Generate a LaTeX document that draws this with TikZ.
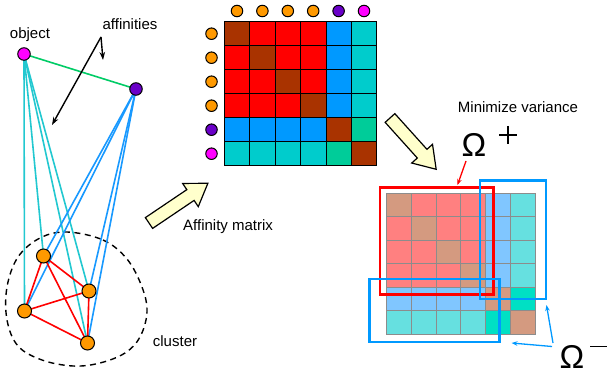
\documentclass[tikz,border=0pt]{standalone}
\usepackage{fontspec}
\setmainfont{Liberation Sans}
\usetikzlibrary{arrows.meta}
\definecolor{mB}{HTML}{A93300}
\definecolor{mR}{HTML}{FF0000}
\definecolor{mU}{HTML}{0099FF}
\definecolor{mC}{HTML}{00CCCC}
\definecolor{mG}{HTML}{00CC99}
\definecolor{fB}{HTML}{D49A80}
\definecolor{fR}{HTML}{FF8080}
\definecolor{fU}{HTML}{80C6FF}
\definecolor{fC}{HTML}{66E0E0}
\definecolor{fG}{HTML}{00E0C4}
\definecolor{dotorange}{HTML}{FF9900}
\definecolor{dotpurple}{HTML}{6A00C8}
\definecolor{dotmagenta}{HTML}{FF00FF}
\definecolor{edgecyan}{HTML}{22C8D0}
\definecolor{edgeblue}{HTML}{1899FF}
\definecolor{edgegreen}{HTML}{00CC66}
\definecolor{arrowfill}{HTML}{FFFFCC}
\definecolor{boxblue}{HTML}{0099FF}
\tikzset{
  dot/.style={circle, draw=black, line width=1pt, minimum size=12.5pt, inner sep=0pt},
  gdot/.style={dot, minimum size=14pt},
  lbl/.style={font=\fontsize{15}{17}\selectfont, inner sep=0pt},
  omg/.style={font=\fontsize{33}{35}\selectfont, inner sep=0pt},
  edge/.style={line width=1.6pt},
  bigarrow/.style={fill=arrowfill, draw=black, line width=1.2pt, line join=miter},
  blk/.style={line width=1.4pt, -{Stealth[length=8pt,width=5.5pt]}},
  selbox/.style={line width=2.4pt},
}
\newcommand{\fatarrow}[3]{% tail, angle, length
  \begin{scope}[shift={#1}, rotate=#2]
    \draw[bigarrow] (0,-6.5) -- ({#3-21},-6.5) -- ({#3-21},-14) -- (#3,0) -- ({#3-21},14) -- ({#3-21},6.5) -- (0,6.5) -- cycle;
  \end{scope}}
\begin{document}
\begin{tikzpicture}[x=1pt,y=-1pt]
\useasboundingbox[fill=white] (0,0) rectangle (608,377);

% ---------------- graph ----------------
\coordinate (o) at (24,54);
\coordinate (p) at (136,89);
\coordinate (c1) at (43.5,256);
\coordinate (c2) at (89,291);
\coordinate (c3) at (24.5,311);
\coordinate (c4) at (87.5,343);

\draw[dashed, dash pattern=on 6pt off 4.5pt, line width=1.4pt]
  plot[smooth cycle, tension=0.6] coordinates {(67,232) (103,240) (127,259) (142,287) (147,312) (140,337) (125,353) (100,363) (73,366) (42,360) (18,346) (7,320) (7,287) (18,257) (40,238)};

\foreach \c in {c1,c2,c3,c4} \draw[edge, edgecyan] (o) -- (\c);
\foreach \c in {c1,c2,c3,c4} \draw[edge, edgeblue] (p) -- (\c);
\draw[edge, edgegreen] (o) -- (p);
\draw[edge, red] (c1) -- (c2) (c1) -- (c3) (c1) -- (c4) (c2) -- (c3) (c2) -- (c4) (c3) -- (c4);

\node[dot, fill=dotmagenta] (obj) at (o) {};
\node[dot, fill=dotpurple] (pur) at (p) {};
\foreach \c in {c1,c2,c3,c4} \node[gdot, fill=dotorange] (n\c) at (\c) {};

\node[lbl] (objlbl) at (30,35) {object};
\node[lbl] (afflbl) at (130,24) {affinities};
\coordinate (affs) at (101,37);
\coordinate (afft1) at (103,60);
\coordinate (afft2) at (52,125);
\draw[blk] (affs) -- (afft1);
\draw[blk] (affs) -- (afft2);
\node[lbl] (clulbl) at (175,341) {cluster};

% ---------------- affinity matrix ----------------
\foreach \row [count=\i from 0] in {{B,R,R,R,U,C},{R,B,R,R,U,C},{R,R,B,R,U,C},{R,R,R,B,U,C},{U,U,U,U,B,G},{C,C,C,C,G,B}}{
  \foreach \cc [count=\j from 0] in \row {
    \filldraw[fill=m\cc, draw=black, line width=0.8pt] ({224.3+\j*25.4},{21.7+\i*24}) rectangle ++(25.4,24);
  }
}
\foreach \col [count=\j from 0] in {dotorange,dotorange,dotorange,dotorange,dotpurple,dotmagenta}{
  \node[dot, minimum size=11.5pt, fill=\col] (ch\j) at ({237+\j*25.4},11) {};
  \node[dot, minimum size=11.5pt, fill=\col] (rh\j) at (211.5,{33.7+\j*24}) {};
}

\fatarrow{(149,223)}{34}{71}
\node[lbl, anchor=west] (afmlbl) at (183,227) {Affinity matrix};

\fatarrow{(390,118)}{-48}{69}

% ---------------- faded matrix ----------------
\foreach \row [count=\i from 0] in {{B,R,R,R,U,C},{R,B,R,R,U,C},{R,R,B,R,U,C},{R,R,R,B,U,C},{U,U,U,U,B,G},{C,C,C,C,G,B}}{
  \foreach \cc [count=\j from 0] in \row {
    \filldraw[fill=f\cc, draw=black!45, line width=0.8pt] ({386+\j*24.95},{193.3+\i*23.45}) rectangle ++(24.95,23.45);
  }
}
\draw[selbox, red] (380,187.5) rectangle (493.3,294.3);
\draw[selbox, boxblue] (479.7,180.7) rectangle (546,299);
\draw[selbox, boxblue] (369.3,278.7) rectangle (499.3,341.7);

\node[lbl] (minlbl) at (518,107) {Minimize variance};
\node[omg] (omp) at (474,145) {Ω};
\draw[line width=1.3pt] (499,135) -- (517,135) (508,126) -- (508,144);
\node[omg] (omm) at (572,357) {Ω};
\draw[line width=1.3pt] (590,346.5) -- (607,346.5);

\coordinate (rs) at (466,161);
\coordinate (rt) at (457.5,185);
\draw[red, line width=1.3pt, -{Stealth[length=6pt,width=4.5pt]}] (rs) -- (rt);
\coordinate (bs1) at (553,343);
\coordinate (bt1) at (546.5,305);
\coordinate (bs2) at (552,346.5);
\coordinate (bt2) at (511.5,343);
\draw[boxblue, line width=1.3pt, -{Stealth[length=6pt,width=4.5pt]}] (bs1) -- (bt1);
\draw[boxblue, line width=1.3pt, -{Stealth[length=6pt,width=4.5pt]}] (bs2) -- (bt2);
\end{tikzpicture}
\end{document}
